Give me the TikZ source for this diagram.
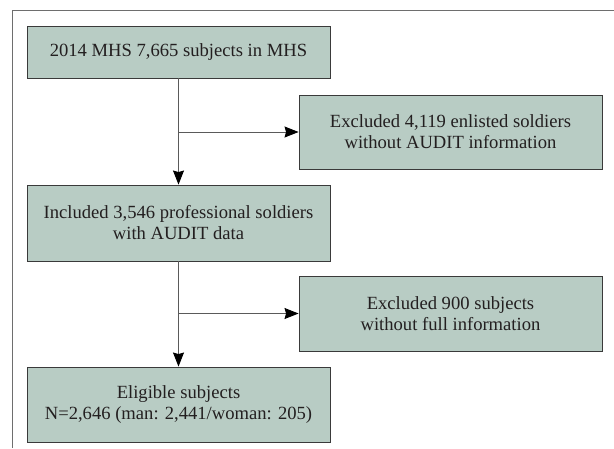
\documentclass[tikz,border=0pt]{standalone}
\usepackage{fontspec}
\setmainfont{Liberation Serif}
\usetikzlibrary{arrows.meta,shadows}
\definecolor{boxfill}{HTML}{B8CCC4}
\definecolor{boxline}{HTML}{3A3A3A}
\definecolor{txt}{HTML}{231F20}
\definecolor{frameline}{HTML}{6E6E6E}
\definecolor{arrline}{HTML}{5A5A5A}
\begin{document}
\begin{tikzpicture}[x=1pt,y=-1pt,
  flowbox/.style={draw=boxline, line width=0.9pt, fill=boxfill, rectangle,
    minimum width=303pt, inner sep=0pt, align=center, text=txt,
    font=\fontsize{18.6}{21}\selectfont,
    drop shadow={shadow xshift=0.9pt, shadow yshift=-0.9pt, fill=black!55, opacity=1}},
  arr/.style={draw=arrline, line width=0.9pt,
    -{Stealth[length=14pt,width=11pt,inset=1.5pt,fill=black,color=black]}}]
\useasboundingbox (0,0) rectangle (614,448);
\fill[white] (0,0) rectangle (614,448);
\draw[frameline, line width=0.9pt] (12,448) -- (12,10) -- (614,10);

\node[flowbox, minimum height=52pt] (b1) at (178.5,52) {2014 MHS 7,665 subjects in MHS};
\node[flowbox, minimum height=76pt] (b2) at (178.5,223) {Included 3,546 professional soldiers\\with AUDIT data};
\node[flowbox, minimum height=75pt] (b3) at (178.5,404.5) {Eligible subjects\\N=2,646 (man: 2,441/woman: 205)};
\node[flowbox, minimum height=74pt] (e1) at (450.5,132) {Excluded 4,119 enlisted soldiers\\without AUDIT information};
\node[flowbox, minimum height=75pt] (e2) at (450.5,313.5) {Excluded 900 subjects\\without full information};

\coordinate (j1) at (b1.south |- e1.west);
\coordinate (j2) at (b2.south |- e2.west);
\draw[arr] (b1.south) -- (b2.north);
\draw[arr] (j1) -- (e1.west);
\draw[arr] (b2.south) -- (b3.north);
\draw[arr] (j2) -- (e2.west);
\end{tikzpicture}
\end{document}
